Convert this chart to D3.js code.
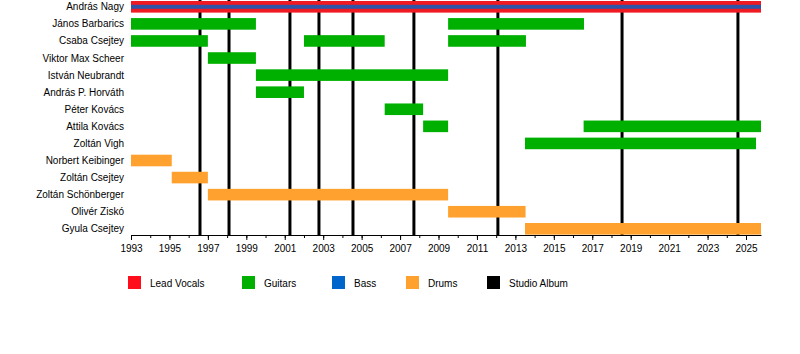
<!DOCTYPE html>
<html>
<head>
<meta charset="utf-8">
<script src="https://cdn.jsdelivr.net/npm/d3@7"></script>
<style>
  body { margin: 0; background: #fff; }
  svg text { font-family: "Liberation Sans", Arial, sans-serif; font-size: 10px; fill: #000; }
</style>
</head>
<body>
<div id="chart"></div>
<script>
// band members, top to bottom
const members = [
  "András Nagy", "János Barbarics", "Csaba Csejtey", "Viktor Max Scheer",
  "István Neubrandt", "András P. Horváth", "Péter Kovács", "Attila Kovács",
  "Zoltán Vigh", "Norbert Keibinger", "Zoltán Csejtey", "Zoltán Schönberger",
  "Olivér Ziskó", "Gyula Csejtey"
];

const roles = ["Lead Vocals", "Guitars", "Bass", "Drums"];
const roleColors = ["#f01a22", "#00b000", "#2f55a8", "#ffa12e"];

const timelineStart = 1993;
const timelineEnd = 2025.78;

// [member, role, from, to]
const periods = [
  ["András Nagy", "Lead Vocals", 1993, timelineEnd],
  ["András Nagy", "Bass", 1993, timelineEnd],
  ["János Barbarics", "Guitars", 1993, 1999.5],
  ["János Barbarics", "Guitars", 2009.5, 2016.57],
  ["Csaba Csejtey", "Guitars", 1993, 1997.0],
  ["Csaba Csejtey", "Guitars", 2002.0, 2006.2],
  ["Csaba Csejtey", "Guitars", 2009.5, 2013.55],
  ["Viktor Max Scheer", "Guitars", 1997.0, 1999.5],
  ["István Neubrandt", "Guitars", 1999.5, 2009.5],
  ["András P. Horváth", "Guitars", 1999.5, 2002.0],
  ["Péter Kovács", "Guitars", 2006.2, 2008.2],
  ["Attila Kovács", "Guitars", 2008.2, 2009.5],
  ["Attila Kovács", "Guitars", 2016.55, timelineEnd],
  ["Zoltán Vigh", "Guitars", 2013.5, 2025.52],
  ["Norbert Keibinger", "Drums", 1993, 1995.12],
  ["Zoltán Csejtey", "Drums", 1995.12, 1997.0],
  ["Zoltán Schönberger", "Drums", 1997.0, 2009.5],
  ["Olivér Ziskó", "Drums", 2009.5, 2013.53],
  ["Gyula Csejtey", "Drums", 2013.5, timelineEnd]
];

// studio album release dates (decimal years)
const albums = [1996.59, 1998.1, 2001.27, 2002.78, 2004.55, 2007.72, 2012.09, 2018.55, 2024.58];

const legendNames = ["Lead Vocals", "Guitars", "Bass", "Drums", "Studio Album"];
const legendColors = ["#ff0d1a", "#00b000", "#0066cc", "#ffa12e", "#000000"];

function drawTimeline() {
  const container = d3.select("#chart");
  container.selectAll("*").remove();

  const width = 800, height = 354;
  const plot = { left: 131, right: 761, top: 0, axisY: 235 };

  const svg = container.append("svg")
    .attr("width", width)
    .attr("height", height);

  const x = d3.scaleLinear()
    .domain([timelineStart, timelineEnd])
    .range([plot.left, plot.right]);

  const y = d3.scalePoint()
    .domain(members)
    .range([6.8, 228.8]);

  const color = d3.scaleOrdinal().domain(roles).range(roleColors);
  const barH = 11.6;

  // album lines (behind the bars)
  svg.append("g")
    .selectAll("line")
    .data(albums)
    .enter()
    .append("line")
    .attr("x1", d => x(d))
    .attr("x2", d => x(d))
    .attr("y1", plot.top)
    .attr("y2", plot.axisY)
    .attr("stroke", "#000")
    .attr("stroke-width", 3);

  // bars; bass drawn as a thin stripe inside the vocal bar
  svg.append("g")
    .selectAll("rect")
    .data(periods)
    .enter()
    .append("rect")
    .attr("x", d => x(d[2]))
    .attr("width", d => x(d[3]) - x(d[2]))
    .attr("y", d => d[1] === "Bass" ? y(d[0]) - 2 : y(d[0]) - barH / 2)
    .attr("height", d => d[1] === "Bass" ? 4 : barH)
    .attr("fill", d => color(d[1]));

  // member names
  svg.append("g")
    .selectAll("text")
    .data(members)
    .enter()
    .append("text")
    .attr("x", 124)
    .attr("y", d => y(d))
    .attr("dy", "0.35em")
    .attr("text-anchor", "end")
    .text(d => d);

  // axis: yearly minor ticks, labels every 2 years
  const minorYears = d3.range(1993, 2026, 1);
  const majorYears = d3.range(1993, 2026, 2);

  svg.append("g")
    .attr("transform", `translate(0,${plot.axisY})`)
    .call(d3.axisBottom(x).tickValues(minorYears).tickFormat("").tickSize(3).tickSizeOuter(0))
    .call(g => g.select(".domain").remove());

  const axis = svg.append("g")
    .attr("transform", `translate(0,${plot.axisY})`)
    .call(d3.axisBottom(x).tickValues(majorYears).tickFormat(d3.format("d"))
      .tickSize(5).tickSizeOuter(0).tickPadding(5));
  axis.selectAll("text").style("font-size", "10px").style("font-family", null);
  axis.attr("font-family", null).attr("font-size", null);

  // legend
  const legendX = [128, 242, 332, 406, 487];
  const legend = svg.append("g")
    .selectAll("g")
    .data(legendNames)
    .enter()
    .append("g")
    .attr("transform", (d, i) => `translate(${legendX[i]},276)`);

  legend.append("rect")
    .attr("width", 13)
    .attr("height", 13)
    .attr("fill", (d, i) => legendColors[i]);

  legend.append("text")
    .attr("x", 22)
    .attr("y", 7)
    .attr("dy", "0.35em")
    .text(d => d);
}

drawTimeline();
</script>
</body>
</html>
